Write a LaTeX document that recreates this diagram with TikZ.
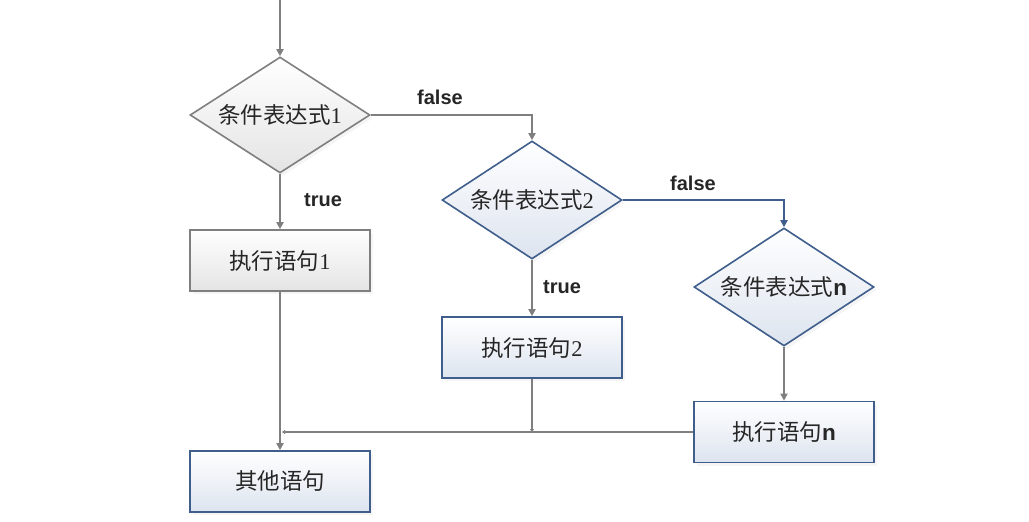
\documentclass[tikz,border=0pt]{standalone}
\usepackage{fontspec}
\setmainfont{Liberation Serif}
\newfontfamily\cjk{Noto Sans CJK SC}
\newfontfamily\lab{Liberation Sans}
\usetikzlibrary{shapes.geometric,arrows.meta,shadows}
\definecolor{gline}{HTML}{7F7F7F}
\definecolor{bline}{HTML}{3F5E8C}
\definecolor{gfill}{HTML}{E4E4E4}
\definecolor{bfill}{HTML}{DDE4EF}
\tikzset{
  base/.style={line width=1.6pt, font=\cjk\fontsize{22.5}{26}\selectfont, text=black!85, inner sep=0pt,
    drop shadow={shadow xshift=3pt, shadow yshift=-3pt, fill=black!8}},
  gdia/.style={base, shape=diamond, aspect=1.55, draw=gline, top color=white, bottom color=gfill,
    minimum width=180pt, minimum height=116pt},
  bdia/.style={base, shape=diamond, aspect=1.55, draw=bline, top color=white, bottom color=bfill,
    minimum width=180pt, minimum height=118pt},
  gbox/.style={base, rectangle, draw=gline, top color=white, bottom color=gfill,
    minimum width=180pt, minimum height=61pt},
  bbox/.style={base, rectangle, draw=bline, top color=white, bottom color=bfill,
    minimum width=180pt, minimum height=61pt},
  conn/.style={line width=1.8pt, draw=gline, -{Triangle[length=7pt,width=7pt]}},
  bconn/.style={line width=1.8pt, draw=bline, -{Triangle[length=7pt,width=7pt]}},
  tiny/.style={line width=1.6pt, draw=gline, -{Triangle[length=3pt,width=4pt]}},
  lbl/.style={font=\lab\bfseries\fontsize{20}{24}\selectfont, text=black!85, inner sep=0pt},
}
\begin{document}
\begin{tikzpicture}[x=1pt,y=-1pt]
\useasboundingbox (0,0) rectangle (1029,522);
\coordinate (top) at (280,0);
\node[gdia] (d1) at (280,115) {条件表达式\rmfamily 1};
\node[gbox] (b1) at (280,260.5) {执行语句\rmfamily 1};
\node[bdia] (d2) at (532,200) {条件表达式\rmfamily 2};
\node[bbox] (b2) at (532,347.5) {执行语句\rmfamily 2};
\node[bdia] (dn) at (784,287) {条件表达式\lab\bfseries n};
\node[bbox] (bn) at (784,432) {执行语句\lab\bfseries n};
\node[bbox] (e) at (280,481.5) {其他语句};
\node[lbl] (f1) at (440,97) {false};
\node[lbl] (t1) at (323,200) {true};
\node[lbl] (f2) at (693,183) {false};
\node[lbl] (t2) at (562,287) {true};
\coordinate (j2) at (532,432);
\coordinate (j1) at (282,432);

\draw[conn] (top) -- (d1.north);
\draw[conn] (d1.east) -| (d2.north);
\draw[conn] (d1.south) -- (b1.north);
\draw[conn] (b1.south) -- (e.north);
\draw[bconn] (d2.east) -| (dn.north);
\draw[conn] (d2.south) -- (b2.north);
\draw[tiny] (b2.south) -- (j2);
\draw[conn] (dn.south) -- (bn.north);
\draw[tiny] (bn.west) -- (bn.west -| j1);
\end{tikzpicture}
\end{document}
